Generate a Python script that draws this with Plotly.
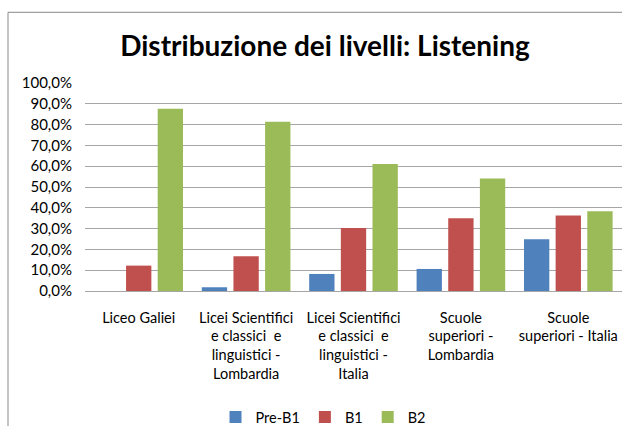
import plotly.graph_objects as go

categories = [
    "Liceo Galiei",
    "Licei Scientifici<br>e classici  e<br>linguistici -<br>Lombardia",
    "Licei Scientifici<br>e classici  e<br>linguistici -<br>Italia",
    "Scuole<br>superiori -<br>Lombardia",
    "Scuole<br>superiori - Italia",
]
series_names = ["Pre-B1", "B1", "B2"]
pre_b1 = [0.0, 0.018, 0.082, 0.106, 0.249]
b1 = [0.122, 0.167, 0.303, 0.350, 0.363]
b2 = [0.876, 0.814, 0.610, 0.541, 0.384]
colors = ["#4F81BD", "#C0504D", "#9BBB59"]
y_ticks = [i / 10 for i in range(11)]

FONT = "Lato"

fig = go.Figure()
for name, vals, col in zip(series_names, [pre_b1, b1, b2], colors):
    fig.add_trace(go.Bar(x=categories, y=vals, name=name, marker_color=col,
                         marker_line_width=0))

fig.update_layout(
    width=622, height=426,
    margin=dict(l=85, r=0, t=83, b=135, autoexpand=False),
    paper_bgcolor="white", plot_bgcolor="white",
    separators=",.",
    barmode="group", bargap=0.116, bargroupgap=0.2,
    font=dict(family=FONT, size=15, color="#000000"),
    title=dict(text="<b>Distribuzione dei livelli: Listening</b>",
               x=325 / 622, xref="container", xanchor="center",
               y=1 - 46 / 426, yref="container", yanchor="middle",
               font=dict(family=FONT, size=28, color="#000000")),
    legend=dict(orientation="h", x=323 / 622, xref="container", xanchor="center",
                y=1 - 417 / 426, yref="container", yanchor="middle",
                font=dict(family=FONT, size=14.5), traceorder="normal",
                itemwidth=30),
    showlegend=True,
)
fig.update_yaxes(range=[0, 1], tickvals=y_ticks, tickformat=".1%",
                 showgrid=True, gridcolor="#A6A6A6", gridwidth=1,
                 zeroline=True, zerolinecolor="#A6A6A6", zerolinewidth=1,
                 ticks="", ticklabelstandoff=12, fixedrange=True, automargin=False,
                 tickfont=dict(size=15))
fig.update_xaxes(showgrid=False, ticks="", tickangle=0, showline=False,
                 automargin=False, tickfont=dict(size=14.5), ticklabelstandoff=16,
                 fixedrange=True)

# chart-area border (left and top visible; right and bottom lie outside the frame)
fig.add_shape(type="rect", xref="paper", yref="paper",
              x0=(8 - 85) / 537, x1=1.05, y0=-1.0, y1=(291 - 12.7) / 207.7,
              line=dict(color="#898989", width=1), fillcolor="rgba(0,0,0,0)",
              layer="below")

fig.write_html("out.html",
               config={"displayModeBar": False, "responsive": False},
               post_script="document.body.style.margin='0';"
                           "document.body.style.overflow='hidden';"
                           "document.documentElement.style.overflow='hidden';")
